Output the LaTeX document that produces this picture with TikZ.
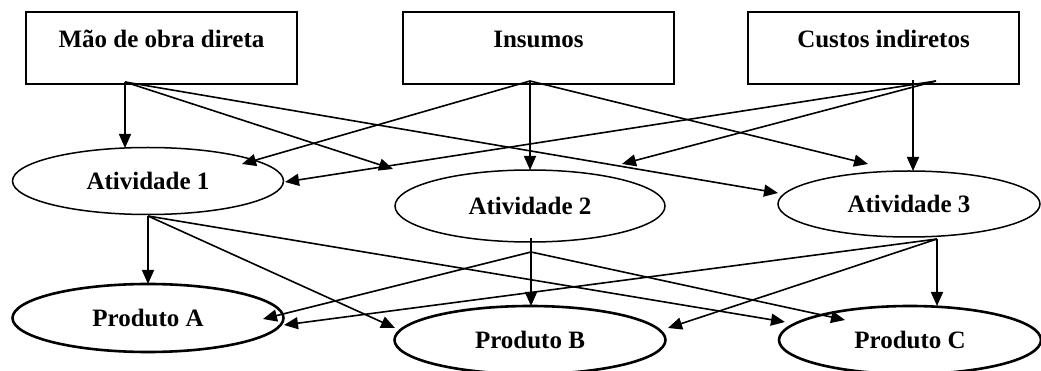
\documentclass[tikz,border=0pt]{standalone}
\usepackage{fontspec}
\setmainfont{Liberation Serif}
\usetikzlibrary{arrows.meta,shapes.geometric}
\begin{document}
\begin{tikzpicture}[x=1pt,y=-1pt,
  lbl/.style={font=\fontsize{25}{28}\selectfont\bfseries},
  srcbox/.style={lbl,draw,line width=1.4pt,minimum width=271pt,minimum height=72pt,text height=12pt,text depth=12pt,inner sep=0pt},
  actv/.style={lbl,draw,ellipse,line width=1.5pt,inner sep=0pt},
  prod/.style={lbl,draw,ellipse,line width=2.6pt,inner sep=0pt},
  conn/.style={line width=1.6pt,-{Triangle[length=14pt,width=12pt]}}]
\useasboundingbox (0,0) rectangle (1041,371);
% source boxes
\node[srcbox] (m) at (161.5,48) {Mão de obra direta};
\node[srcbox] (i) at (538.5,48) {Insumos};
\node[srcbox] (c) at (883.5,48) {Custos indiretos};
% activities
\node[actv,minimum width=271pt,minimum height=67pt] (a1) at (148,181) {Atividade 1};
\node[actv,minimum width=270pt,minimum height=72pt] (a2) at (530,206) {Atividade 2};
\node[actv,minimum width=262pt,minimum height=66pt] (a3) at (909,204) {Atividade 3};
% products
\node[prod,minimum width=271pt,minimum height=68pt] (pa) at (148,318) {Produto A};
\node[prod,minimum width=271pt,minimum height=68pt] (pb) at (530,340) {Produto B};
\node[prod,minimum width=262pt,minimum height=68pt] (pc) at (910,340) {Produto C};
% connector points
\coordinate (ms) at (125,82);
\coordinate (is) at (530,81);
\coordinate (cs) at (913,80);
\coordinate (cd) at (936,81);
\coordinate (a1s) at (148,216);
\coordinate (a2s) at (531,238);
\coordinate (a2d) at (531,252);
\coordinate (a3s) at (937,239);
\coordinate (a1t) at (125,148);
\coordinate (a1i) at (242,164);
\coordinate (a1c) at (285,182);
\coordinate (a2m) at (393,169);
\coordinate (a2t) at (530,170);
\coordinate (a2c) at (622,164);
\coordinate (a3m) at (778,193);
\coordinate (a3i) at (868,164);
\coordinate (a3t) at (913,171);
\coordinate (pat) at (148,284);
\coordinate (pa2) at (263,319);
\coordinate (pa3) at (284,325);
\coordinate (pbt) at (531,306);
\coordinate (pb1) at (395,328);
\coordinate (pb3) at (668,328);
\coordinate (pct) at (937,306);
\coordinate (pc1) at (785,322);
\coordinate (pc2) at (845,320);
% connectors
\draw[conn] (ms) -- (a1t);
\draw[conn] (ms) -- (a2m);
\draw[conn] (ms) -- (a3m);
\draw[conn] (is) -- (a1i);
\draw[conn] (is) -- (a2t);
\draw[conn] (is) -- (a3i);
\draw[conn] (cd) -- (a1c);
\draw[conn] (cd) -- (a2c);
\draw[conn] (cs) -- (a3t);
\draw[conn] (a1s) -- (pat);
\draw[conn] (a1s) -- (pb1);
\draw[conn] (a1s) -- (pc1);
\draw[conn] (a2s) -- (pbt);
\draw[conn] (a2d) -- (pa2);
\draw[conn] (a2d) -- (pc2);
\draw[conn] (a3s) -- (pct);
\draw[conn] (a3s) -- (pb3);
\draw[conn] (a3s) -- (pa3);
\end{tikzpicture}
\end{document}
